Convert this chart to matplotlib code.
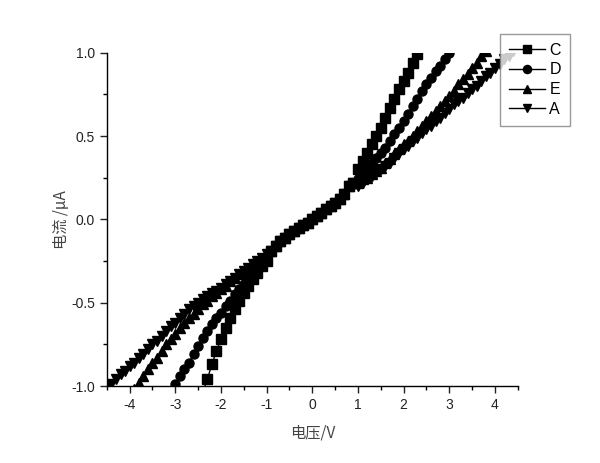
import matplotlib
matplotlib.use("Agg")
import matplotlib.pyplot as plt
from matplotlib.ticker import MultipleLocator

plt.rcParams['font.family'] = ['Liberation Sans', 'DejaVu Sans']

# shared low-voltage part (all samples overlap here)
core_v = [-0.9, -0.8, -0.7, -0.6, -0.5, -0.4, -0.3, -0.2, -0.1, 0.0,
          0.1, 0.2, 0.3, 0.4, 0.5, 0.6, 0.7, 0.8, 0.9]
core_i = [-0.19, -0.16, -0.13, -0.11, -0.09, -0.07, -0.05, -0.035, -0.02, 0.0,
          0.02, 0.04, 0.06, 0.08, 0.10, 0.12, 0.15, 0.20, 0.22]

# C (squares)
c_neg_v = [-2.4, -2.3, -2.2, -2.1, -2.0, -1.9, -1.8, -1.7, -1.6, -1.5, -1.4, -1.3, -1.2, -1.1, -1.0]
c_neg_i = [-1.04, -0.96, -0.87, -0.79, -0.72, -0.65, -0.59, -0.54, -0.49, -0.44, -0.40, -0.36, -0.32, -0.28, -0.25]
c_pos_v = [1.0, 1.1, 1.2, 1.3, 1.4, 1.5, 1.6, 1.7, 1.8, 1.9, 2.0, 2.1, 2.2, 2.3, 2.4]
c_pos_i = [0.30, 0.35, 0.40, 0.45, 0.50, 0.55, 0.61, 0.67, 0.72, 0.78, 0.83, 0.88, 0.94, 0.99, 1.04]

# D (circles)
d_neg_v = [-3.1, -3.0, -2.9, -2.8, -2.7, -2.6, -2.5, -2.4, -2.3, -2.2, -2.1, -2.0, -1.9, -1.8, -1.7,
           -1.6, -1.5, -1.4, -1.3, -1.2, -1.1, -1.0]
d_neg_i = [-1.04, -0.99, -0.94, -0.90, -0.86, -0.81, -0.76, -0.71, -0.67, -0.63, -0.59, -0.56, -0.52, -0.49, -0.45,
           -0.42, -0.39, -0.35, -0.32, -0.29, -0.26, -0.23]
d_pos_v = [1.0, 1.1, 1.2, 1.3, 1.4, 1.5, 1.6, 1.7, 1.8, 1.9, 2.0, 2.1, 2.2, 2.3, 2.4, 2.5,
           2.6, 2.7, 2.8, 2.9, 3.0, 3.1]
d_pos_i = [0.24, 0.27, 0.30, 0.34, 0.37, 0.40, 0.43, 0.47, 0.51, 0.55, 0.59, 0.63, 0.68, 0.72, 0.77, 0.81,
           0.85, 0.89, 0.92, 0.96, 1.00, 1.04]

# E (up triangles)
e_neg_v = [-3.9, -3.8, -3.7, -3.6, -3.5, -3.4, -3.3, -3.2, -3.1, -3.0, -2.9, -2.8, -2.7, -2.6, -2.5,
           -2.4, -2.3, -2.2, -2.1, -2.0, -1.9, -1.8, -1.7, -1.6, -1.5, -1.4, -1.3, -1.2, -1.1, -1.0]
e_neg_i = [-1.02, -0.98, -0.94, -0.90, -0.86, -0.83, -0.79, -0.75, -0.72, -0.69, -0.65, -0.62, -0.59, -0.57, -0.54,
           -0.51, -0.49, -0.46, -0.44, -0.42, -0.40, -0.37, -0.35, -0.33, -0.31, -0.29, -0.27, -0.25, -0.23, -0.21]
e_pos_v = [1.0, 1.1, 1.2, 1.3, 1.4, 1.5, 1.6, 1.7, 1.8, 1.9, 2.0, 2.1, 2.2, 2.3, 2.4, 2.5, 2.6, 2.7,
           2.8, 2.9, 3.0, 3.1, 3.2, 3.3, 3.4, 3.5, 3.6, 3.7, 3.8]
e_pos_i = [0.22, 0.24, 0.25, 0.27, 0.29, 0.31, 0.34, 0.36, 0.39, 0.42, 0.45, 0.47, 0.50, 0.53, 0.56, 0.59, 0.62, 0.65,
           0.68, 0.71, 0.74, 0.77, 0.81, 0.84, 0.87, 0.91, 0.94, 0.98, 1.01]

# A (down triangles)
a_neg_v = [-4.5, -4.4, -4.3, -4.2, -4.1, -4.0, -3.9, -3.8, -3.7, -3.6, -3.5, -3.4, -3.3, -3.2, -3.1, -3.0,
           -2.9, -2.8, -2.7, -2.6, -2.5, -2.4, -2.3, -2.2, -2.1, -2.0, -1.9, -1.8, -1.7, -1.6, -1.5,
           -1.4, -1.3, -1.2, -1.1, -1.0]
a_neg_i = [-1.02, -0.99, -0.96, -0.93, -0.91, -0.88, -0.86, -0.83, -0.81, -0.78, -0.75, -0.73, -0.70, -0.67, -0.64, -0.62,
           -0.59, -0.57, -0.54, -0.52, -0.50, -0.48, -0.46, -0.44, -0.43, -0.41, -0.39, -0.37, -0.35, -0.33, -0.31,
           -0.29, -0.27, -0.25, -0.23, -0.21]
a_pos_v = [1.0, 1.1, 1.2, 1.3, 1.4, 1.5, 1.6, 1.7, 1.8, 1.9, 2.0, 2.1, 2.2, 2.3, 2.4, 2.5, 2.6, 2.7,
           2.8, 2.9, 3.0, 3.1, 3.2, 3.3, 3.4, 3.5, 3.6, 3.7, 3.8, 3.9, 4.0, 4.1, 4.2, 4.3, 4.4]
a_pos_i = [0.20, 0.22, 0.24, 0.26, 0.28, 0.30, 0.32, 0.34, 0.37, 0.40, 0.42, 0.44, 0.47, 0.49, 0.52, 0.54, 0.56, 0.59,
           0.61, 0.64, 0.66, 0.69, 0.71, 0.73, 0.76, 0.78, 0.80, 0.83, 0.86, 0.88, 0.91, 0.93, 0.96, 0.98, 1.01]

series = [
    ("C", "s", c_neg_v, c_neg_i, c_pos_v, c_pos_i),
    ("D", "o", d_neg_v, d_neg_i, d_pos_v, d_pos_i),
    ("E", "^", e_neg_v, e_neg_i, e_pos_v, e_pos_i),
    ("A", "v", a_neg_v, a_neg_i, a_pos_v, a_pos_i),
]

fig = plt.figure(figsize=(6, 4.63), dpi=100)
ax = fig.add_axes([0.178, 0.166, 0.685, 0.72])

for name, mk, nv, ni, pv, pi in series:
    v = nv + core_v + pv
    i = ni + core_i + pi
    ax.plot(v, i, color='black', lw=1, marker=mk, ms=6.5, mfc='black', mec='black',
            label=name, clip_on=True)

ax.set_xlim(-4.5, 4.5)
ax.set_ylim(-1.0, 1.0)
ax.xaxis.set_major_locator(MultipleLocator(1))
ax.xaxis.set_minor_locator(MultipleLocator(0.5))
ax.yaxis.set_major_locator(MultipleLocator(0.5))
ax.yaxis.set_minor_locator(MultipleLocator(0.25))
ax.tick_params(which='major', direction='out', length=5, width=1, labelsize=10, colors='#222222')
ax.tick_params(which='minor', direction='out', length=3, width=1)
ax.set_xticks(range(-4, 5))
ax.set_xticklabels([str(t) for t in range(-4, 5)])
ax.set_yticks([-1.0, -0.5, 0.0, 0.5, 1.0])
ax.set_yticklabels(['-1.0', '-0.5', '0.0', '0.5', '1.0'])

for s in ['top', 'right']:
    ax.spines[s].set_visible(False)
for s in ['left', 'bottom']:
    ax.spines[s].set_linewidth(1)

cjk = ['Noto Sans CJK SC', 'DejaVu Sans']
ax.set_xlabel('电压/V', family=cjk, fontsize=11, color='#444444', labelpad=9)
ax.set_ylabel('电流 /μA', family=cjk, fontsize=11, color='#444444', labelpad=1)

leg = ax.legend(loc='upper left', bbox_to_anchor=(0.833, 0.927), bbox_transform=fig.transFigure,
                borderaxespad=0, fancybox=False, frameon=True, fontsize=11.5,
                handlelength=2.3, labelspacing=0.3, handletextpad=0.25, borderpad=0.55,
                markerscale=0.9)
leg.get_frame().set_edgecolor('#808080')
leg.get_frame().set_linewidth(1)
leg.set_zorder(5)

fig.savefig('out.png', dpi=100, facecolor='white')
